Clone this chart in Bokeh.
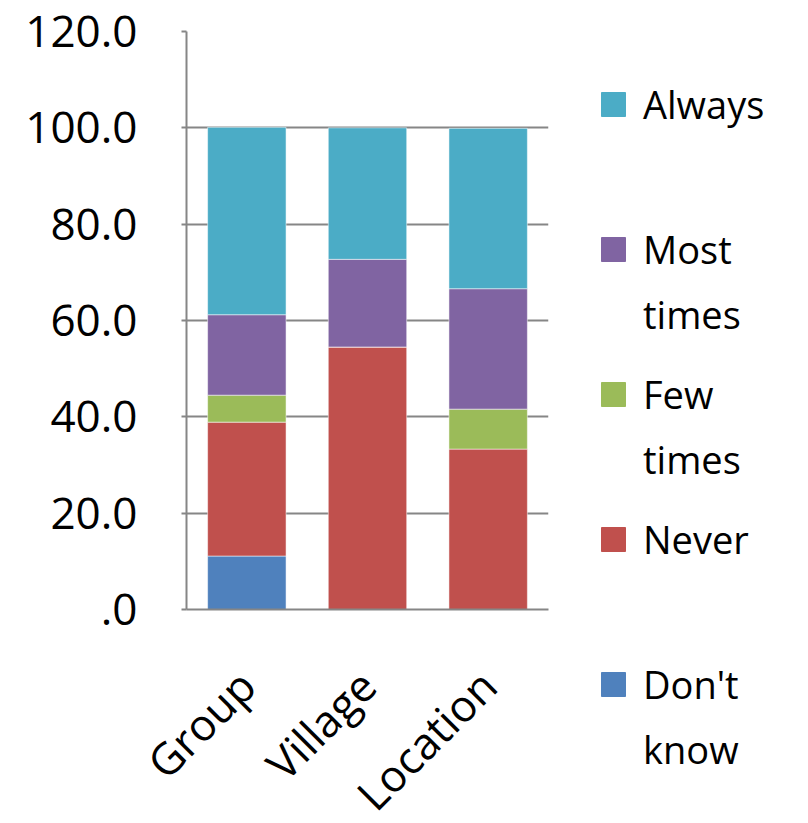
from bokeh.plotting import figure
from bokeh.layouts import row
from bokeh.models import (ColumnDataSource, Legend, LegendItem, FixedTicker,
                          PrintfTickFormatter, Range1d)
from bokeh.embed import file_html
from bokeh.resources import INLINE
import math

categories = ["Group", "Village", "Location"]
dont_know = [11.1, 0.0, 0.0]
never = [27.8, 54.5, 33.3]
few_times = [5.6, 0.0, 8.3]
most_times = [16.7, 18.2, 25.0]
always = [38.9, 27.3, 33.3]
series_keys = ["dont_know", "never", "few_times", "most_times", "always"]
first_lines = ["Don't", "Never", "Few", "Most", "Always"]
second_lines = ["know", " ", "times", "times", " "]
colors = ["#4F81BD", "#C0504D", "#9BBB59", "#8064A2", "#4BACC6"]
y_ticks = [0, 20, 40, 60, 80, 100, 120]

src = ColumnDataSource(dict(cat=categories, dont_know=dont_know, never=never,
                            few_times=few_times, most_times=most_times, always=always))

FONT = "Open Sans"
W, H = 808, 823
FRAME_W, FRAME_H = 362, 578
LEFT, TOP = 186, 31
RIGHT_GAP = 10
SLOT = 145          # legend item height, px
LEG_OFFSET = 50     # legend left from chart frame right, px
GLYPH_W = 30
STANDOFF = 15
LINE_GAP = 65       # second label line offset, px

p = figure(x_range=categories, y_range=(0, 120),
           output_backend="svg", toolbar_location=None,
           min_border_left=LEFT, min_border_top=TOP, min_border_right=RIGHT_GAP,
           min_border_bottom=H - TOP - FRAME_H,
           frame_width=FRAME_W, frame_height=FRAME_H)
p.outline_line_color = None
p.background_fill_color = "white"

p.vbar_stack(series_keys, x="cat", width=0.65, source=src, color=colors,
             line_color="white", line_alpha=0.5, line_width=1)

p.yaxis.ticker = FixedTicker(ticks=y_ticks)
p.yaxis.formatter = PrintfTickFormatter(format="%.1f")
p.yaxis.major_label_overrides = {0: ".0"}
p.yaxis.major_label_text_font = FONT
p.yaxis.major_label_text_font_size = "44px"
p.yaxis.major_label_text_color = "black"
p.yaxis.axis_line_color = "#868686"
p.yaxis.axis_line_width = 2
p.yaxis.major_tick_line_color = "#868686"
p.yaxis.major_tick_line_width = 2
p.yaxis.major_tick_out = 5
p.yaxis.major_tick_in = 0
p.yaxis.minor_tick_line_color = None
p.yaxis.major_label_standoff = 44

p.xaxis.axis_line_color = "#868686"
p.xaxis.axis_line_width = 2
p.xaxis.major_tick_line_color = None
p.xaxis.minor_tick_line_color = None
p.xaxis.major_label_orientation = math.pi / 4
p.xaxis.major_label_text_font = FONT
p.xaxis.major_label_text_font_size = "44px"
p.xaxis.major_label_text_color = "black"
p.xaxis.major_label_standoff = 62

p.xgrid.grid_line_color = None
p.ygrid.grid_line_color = "#868686"
p.ygrid.grid_line_width = 2

# legend panel (its own bars lie outside its view; only the legend shows)
LEG_W = W - LEFT - FRAME_W - RIGHT_GAP
pleg = figure(x_range=categories, y_range=Range1d(200, 201), output_backend="svg",
              toolbar_location=None, frame_width=LEG_W, frame_height=H,
              min_border=0)
pleg.axis.visible = False
pleg.grid.visible = False
pleg.outline_line_color = None
pleg.background_fill_alpha = 0
swatches = pleg.vbar_stack(series_keys, x="cat", width=0.65, source=src, color=colors)
ghosts = pleg.vbar_stack(series_keys, x="cat", width=0.65, source=src, color=colors,
                         fill_alpha=0, line_alpha=0)

common = dict(orientation="vertical", label_text_font=FONT, label_text_font_size="38px",
              label_text_color="black", spacing=0, label_height=SLOT, padding=0, margin=0,
              glyph_width=GLYPH_W, glyph_height=30, label_standoff=STANDOFF,
              border_line_color=None, background_fill_alpha=0)
leg_x = LEG_OFFSET - RIGHT_GAP
leg_y = H - TOP - 5 * SLOT

items1 = [LegendItem(label=first_lines[i], renderers=[swatches[i]]) for i in reversed(range(5))]
pleg.add_layout(Legend(items=items1, location=(leg_x, leg_y), **common))

items2 = [LegendItem(label=second_lines[i], renderers=[ghosts[i]]) for i in reversed(range(5))]
pleg.add_layout(Legend(items=items2, location=(leg_x, leg_y - LINE_GAP), **common))

layout = row(p, pleg)
open("out.html", "w").write(file_html(layout, INLINE))
